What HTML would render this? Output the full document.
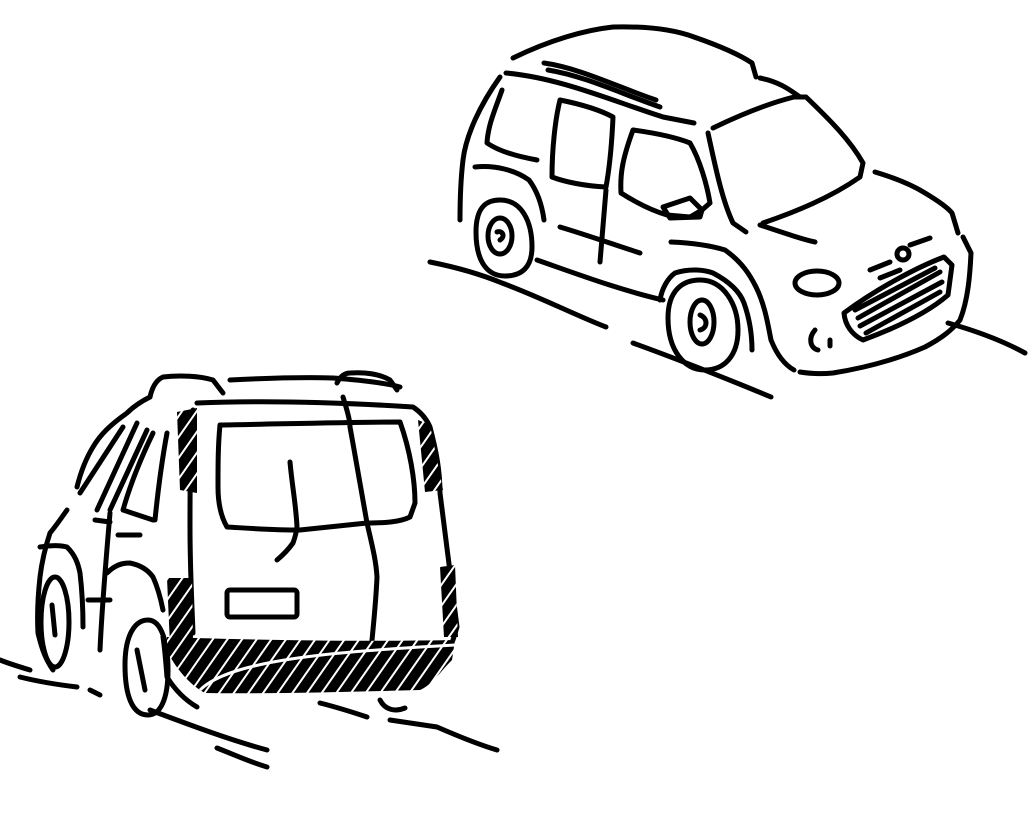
<!DOCTYPE html>
<html><head><meta charset="utf-8"><style>html,body{margin:0;padding:0;background:#fff}svg{display:block}</style></head>
<body>
<svg width="1029" height="831" viewBox="0 0 1029 831" xmlns="http://www.w3.org/2000/svg">
<defs>
<pattern id="h" width="12" height="12" patternUnits="userSpaceOnUse" patternTransform="rotate(35)">
<rect width="12" height="12" fill="#000"/><rect x="0" y="0" width="2" height="12" fill="#fff"/>
</pattern>
</defs>
<g fill="none" stroke="#000" stroke-width="5" stroke-linecap="round" stroke-linejoin="round">
<!-- TOP RIGHT CAR -->
<path d="M513,58 C550,40 585,30 613,27 C650,26 675,30 694,37 C720,46 740,55 752,63 L756,77"/>
<path d="M760,78 C780,82 790,90 800,97"/>
<path d="M506,73 C560,78 610,100 663,117 L694,123"/>
<path d="M544,63 C580,68 620,88 656,100"/>
<path d="M548,70 C585,76 622,94 660,107"/>
<path d="M713,128 C740,115 770,103 794,97 L806,97 C830,120 850,140 863,163 L860,177 C830,198 795,212 763,223"/>
<path d="M708,133 C715,165 722,200 733,223 L746,232"/>
<path d="M500,77 C480,105 466,135 463,160 C460,185 460,205 460,220"/>
<path d="M502,90 C495,110 488,125 487,143 C500,152 520,157 537,160"/>
<path d="M560,100 C580,104 600,110 613,117 C612,140 610,165 606,187 C585,186 565,182 552,177 C552,150 555,120 560,100"/>
<path d="M633,130 C655,133 675,137 690,143 C700,160 707,185 710,203 L702,210 L690,217 L667,215 C650,210 632,200 621,193 C620,175 622,160 633,130"/>
<path d="M663,207 L690,198 L702,210 L700,217 L670,218 Z"/>
<path d="M475,167 C495,165 515,170 529,180 C538,192 542,205 544,220"/>
<path d="M537,260 C580,275 620,290 663,300"/>
<path d="M560,227 C590,236 615,245 640,253"/>
<path d="M606,190 L600,262"/>
<path d="M660,300 C662,288 668,278 675,273 C690,268 705,270 713,273 C730,282 740,292 744,303 C750,320 752,335 752,350"/>
<path d="M671,242 C695,243 712,246 725,250 C742,262 750,275 756,287 C765,305 768,325 771,340 C777,355 785,365 794,370"/>
<path d="M800,372 C812,374 822,374 833,373 C870,367 900,358 925,347 C942,338 952,330 960,320 C968,300 970,275 971,253 L963,237"/>
<path d="M875,172 C895,178 912,185 925,193 C940,202 948,208 952,213 L958,233"/>
<path d="M760,225 C790,235 805,240 815,242"/>
<ellipse cx="817" cy="283" rx="22" ry="12"/>
<path d="M844,313 C875,290 915,268 944,257 L952,265 L948,295 C925,315 890,330 863,340 C852,335 845,325 844,313 Z"/>
<path d="M858,318 L940,272 M860,326 L942,282 M866,333 L940,292 M855,310 L935,268"/>
<path d="M870,270 L890,262 M880,278 L900,270 M910,245 L930,238"/>
<circle cx="903" cy="254" r="6"/>
<path d="M815,330 C808,338 810,348 818,350 M830,340 L830,346"/>
<path d="M476,232 C476,205 488,200 500,200 C522,200 532,222 532,247 C532,267 522,276 505,276 C485,276 476,258 476,232"/>
<ellipse cx="500" cy="236" rx="12" ry="18"/>
<path d="M497,232 C502,230 506,236 500,240"/>
<path d="M668,318 C668,290 683,280 700,280 C724,280 738,305 738,330 C738,356 724,370 705,370 C684,370 668,350 668,318"/>
<ellipse cx="702" cy="322" rx="12" ry="22"/>
<path d="M700,315 C708,318 708,328 700,330"/>
<path d="M430,262 C460,268 485,276 502,283 C540,297 575,315 606,327"/>
<path d="M633,343 C680,360 730,380 771,397"/>
<path d="M948,323 C980,332 1005,342 1025,353"/>
<!-- BOTTOM LEFT CAR -->
<path d="M230,380 C270,378 300,377 333,378 C360,380 385,383 400,387"/>
<path d="M150,397 C152,388 156,380 163,377 C180,375 200,376 213,380 L223,393"/>
<path d="M337,383 C340,377 344,373 350,373 C365,372 380,374 390,380 L397,390"/>
<path d="M197,403 C270,400 350,403 413,407 C422,413 427,420 430,427 C436,450 440,470 440,493 C446,540 452,590 457,627 L453,640"/>
<path d="M193,410 C190,450 190,490 190,527 C190,570 192,605 193,633"/>
<path d="M220,425 C280,424 350,422 400,422 C410,450 415,480 415,503 L410,517 C400,522 385,523 367,523 C340,526 320,528 300,530 C270,530 245,528 227,527 C220,515 218,500 218,487 C218,465 218,445 220,425 Z"/>
<path d="M343,397 C347,410 350,420 350,427 C356,460 362,495 367,523 C372,545 376,560 377,577 C376,600 374,620 372,640"/>
<path d="M290,462 C292,485 296,505 297,527 C296,535 294,540 293,543 C288,550 283,555 277,560"/>
<rect x="227" y="590" width="70" height="27" rx="3"/>
<path d="M150,397 C140,402 133,407 127,413 C110,425 100,435 93,447 C85,460 80,475 77,487"/>
<path d="M67,510 C60,520 55,527 50,533 C45,548 42,560 40,577 C38,595 37,615 38,633 C42,650 46,660 53,670"/>
<path d="M123,427 L80,493 M137,423 L97,510 M147,430 L110,510"/>
<path d="M167,433 C162,460 158,490 155,520 M153,433 C140,460 130,485 123,510 L153,520"/>
<path d="M110,513 C106,560 102,605 100,650"/>
<path d="M95,520 L110,522 M118,535 L140,535 M88,600 L110,600"/>
<path d="M40,547 C52,545 60,545 67,547 C75,555 78,563 80,573 C82,590 83,610 83,627"/>
<path d="M107,573 C115,565 122,563 130,563 C140,565 148,570 153,577 C158,588 161,600 163,610"/>
<ellipse cx="55" cy="622" rx="14" ry="45"/>
<path d="M52,605 L55,635"/>
<path d="M125,665 C125,635 135,620 148,620 C162,620 168,645 168,670 C168,700 160,715 148,715 C132,715 125,695 125,665"/>
<path d="M137,650 L145,690"/>
<path d="M163,637 C165,650 166,665 167,677 C175,690 185,700 197,707"/>
<path d="M0,660 C10,664 20,667 30,670 M20,677 C40,682 60,685 77,687 M90,690 L100,695"/>
<path d="M150,710 C190,725 230,740 267,750"/>
<path d="M217,748 C235,755 250,762 267,767"/>
<path d="M320,703 C340,708 355,713 367,717 M390,720 L437,727 C460,737 480,745 497,750"/>
<path d="M380,700 C385,710 395,712 405,708"/>
</g>
<path d="M167,637 C250,640 350,642 455,640 L452,660 C440,672 432,685 420,690 C350,692 270,694 205,693 C190,685 175,668 167,650 Z" fill="url(#h)"/>
<path d="M200,690 C230,660 330,652 455,645" fill="none" stroke="#fff" stroke-width="3"/>
<path d="M177,412 L197,408 L197,493 L180,490 Z" fill="url(#h)"/>
<path d="M418,420 L430,425 L443,490 L425,492 Z" fill="url(#h)"/>
<path d="M440,567 L455,565 L458,637 L444,637 Z" fill="url(#h)"/>
<path d="M167,578 L192,578 L193,643 L170,645 Z" fill="url(#h)"/>
</svg>
</body></html>
